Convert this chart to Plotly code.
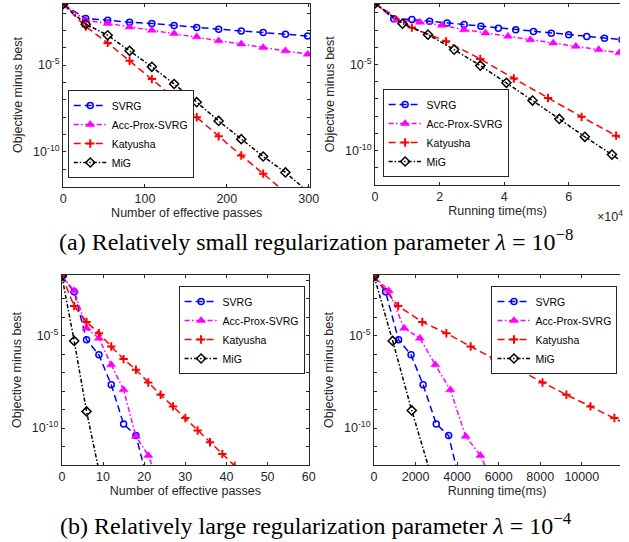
import numpy as np
import plotly.graph_objects as go

# ---------------- data (log10 of objective minus best) -------------
# (a) lambda = 1e-8, effective passes
a1_svrg_x = [0, 27.6, 54.4, 81.2, 108.4, 135.6, 163.2, 190.0, 217.6, 244.4, 271.6, 298.8]
a1_svrg_log = [-1.49, -2.32, -2.41, -2.53, -2.60, -2.72, -2.83, -2.93, -3.03, -3.12, -3.22, -3.32]
a1_acc_x = [0, 27.6, 54.4, 81.2, 108.4, 135.6, 163.2, 190.0, 217.6, 244.4, 271.6, 298.8]
a1_acc_log = [-1.49, -2.41, -2.60, -2.80, -2.99, -3.18, -3.37, -3.60, -3.78, -3.98, -4.18, -4.37]
a1_kat_x = [0, 27.6, 54.4, 81.2, 108.4, 135.6, 163.2, 190.0, 217.6, 244.4, 271.6]
a1_kat_log = [-1.49, -2.78, -3.72, -4.75, -5.80, -6.88, -8.01, -9.11, -10.21, -11.26, -12.35]
a1_mig_x = [0, 27.6, 54.4, 81.2, 108.4, 135.6, 163.2, 190.0, 217.6, 244.4, 271.6, 298.8]
a1_mig_log = [-1.49, -2.64, -3.28, -4.18, -5.10, -6.09, -7.14, -8.22, -9.27, -10.27, -11.19, -12.29]

# (a) lambda = 1e-8, running time (x 1e4 ms)
a2_svrg_x = [0, 0.58, 1.14, 1.69, 2.23, 2.76, 3.28, 3.82, 4.36, 4.91, 5.46, 6.00, 6.56, 7.11, 7.65]
a2_svrg_log = [-1.45, -2.33, -2.38, -2.48, -2.58, -2.67, -2.77, -2.89, -2.98, -3.08, -3.18, -3.27, -3.37, -3.47, -3.55]
a2_acc_x = [0, 0.68, 1.39, 2.07, 2.76, 3.42, 4.12, 4.81, 5.52, 6.22, 6.93, 7.57]
a2_acc_log = [-1.45, -2.42, -2.54, -2.72, -2.97, -3.16, -3.35, -3.55, -3.74, -3.94, -4.13, -4.32]
a2_kat_x = [0, 1.14, 2.20, 3.26, 4.30, 5.36, 6.40, 7.47, 8.53]
a2_kat_log = [-1.45, -2.85, -3.65, -4.67, -5.81, -6.94, -8.04, -9.13, -10.22]
a2_mig_x = [0, 0.85, 1.64, 2.45, 3.26, 4.07, 4.88, 5.71, 6.50, 7.34, 8.15]
a2_mig_log = [-1.45, -2.62, -3.26, -4.13, -5.06, -6.06, -7.09, -8.16, -9.20, -10.23, -11.25]

# (b) lambda = 1e-4, effective passes
b1_svrg_x = [0, 3, 6, 9, 12, 15, 18, 21]
b1_svrg_log = [-1.78, -2.63, -5.23, -6.04, -7.66, -9.78, -10.41, -13.0]
b1_acc_x = [0, 3, 6, 9, 12, 15, 18, 21, 24]
b1_acc_log = [-1.78, -2.57, -4.60, -5.14, -6.58, -7.93, -10.45, -11.48, -13.3]
b1_kat_x = [0, 3, 6, 9, 12, 15, 18, 21, 24, 27, 30, 33, 36, 39, 42]
b1_kat_log = [-1.78, -3.40, -4.26, -4.87, -5.59, -6.27, -6.85, -7.54, -8.20, -8.83, -9.46, -10.13, -10.77, -11.40, -12.05]
b1_mig_x = [0, 3, 6, 9]
b1_mig_log = [-1.78, -5.29, -9.10, -12.3]

# (b) lambda = 1e-4, running time (ms)
b2_svrg_x = [0, 553, 1181, 1780, 2361, 2994, 3590, 4150]
b2_svrg_log = [-1.78, -2.63, -5.23, -6.04, -7.66, -9.78, -10.41, -13.0]
b2_acc_x = [0, 708, 1450, 2205, 2947, 3670, 4410, 5120, 5850]
b2_acc_log = [-1.78, -2.57, -4.60, -5.14, -6.58, -7.93, -10.45, -11.48, -13.3]
b2_kat_x = [0, 1160, 2320, 3480, 4650, 5800, 6960, 8110, 9260, 10420, 11570, 12730]
b2_kat_log = [-1.78, -3.40, -4.26, -4.87, -5.59, -6.27, -6.85, -7.54, -8.20, -8.83, -9.46, -10.13]
b2_mig_x = [0, 897, 1813, 2700]
b2_mig_log = [-1.78, -5.29, -9.05, -12.4]

series_names = ["SVRG", "Acc-Prox-SVRG", "Katyusha", "MiG"]
y_major_exps = [-10, -5]
y_major_labels = ["10<sup>-10</sup>", "10<sup>-5</sup>"]
y_minor_exps = [-12, -11, -9, -8, -7, -6, -4, -3, -2]

# ---------------- styles ---------------------------------------------------------------
styles = {
    "SVRG": dict(line=dict(color="#0000FF", width=1.5, dash="7px,4px"),
                 marker=dict(symbol="circle-open", size=6, color="#0000FF",
                             line=dict(width=1.5, color="#0000FF"))),
    "Acc-Prox-SVRG": dict(line=dict(color="#FF00FF", width=1.5, dash="5px,2.5px,1.5px,2.5px"),
                          marker=dict(symbol="triangle-up", size=8, color="#FF00FF",
                                      line=dict(width=0.5, color="#FF00FF"))),
    "Katyusha": dict(line=dict(color="#FF0000", width=1.5, dash="7px,4px"),
                     marker=dict(symbol="cross-thin-open", size=6, color="#FF0000",
                                 line=dict(width=2, color="#FF0000"))),
    "MiG": dict(line=dict(color="#000000", width=1.5, dash="4px,2px,1.5px,2px"),
                marker=dict(symbol="diamond-open", size=7, color="#000000",
                            line=dict(width=1.5, color="#000000"))),
}

panels = [
    dict(xs=[a1_svrg_x, a1_acc_x, a1_kat_x, a1_mig_x],
         ys=[a1_svrg_log, a1_acc_log, a1_kat_log, a1_mig_log]),
    dict(xs=[a2_svrg_x, a2_acc_x, a2_kat_x, a2_mig_x],
         ys=[a2_svrg_log, a2_acc_log, a2_kat_log, a2_mig_log]),
    dict(xs=[b1_svrg_x, b1_acc_x, b1_kat_x, b1_mig_x],
         ys=[b1_svrg_log, b1_acc_log, b1_kat_log, b1_mig_log]),
    dict(xs=[b2_svrg_x, b2_acc_x, b2_kat_x, b2_mig_x],
         ys=[b2_svrg_log, b2_acc_log, b2_kat_log, b2_mig_log]),
]

W, H = 629, 542
fig = go.Figure()
legend_ids = ["legend", "legend2", "legend3", "legend4"]
for i, p in enumerate(panels):
    ax = "" if i == 0 else str(i + 1)
    for name, xv, yv in zip(series_names, p["xs"], p["ys"]):
        st = styles[name]
        fig.add_trace(go.Scatter(
            x=xv, y=10.0 ** np.array(yv), mode="lines+markers", name=name,
            line=st["line"], marker=st["marker"],
            xaxis="x" + ax, yaxis="y" + ax, legend=legend_ids[i],
        ))

FONT = "Liberation Sans, Arial, sans-serif"
AXC = "#262626"

def px_dom(a, b, total):
    return [a / total, b / total]

def ydom(top, bottom):
    return [1 - bottom / H, 1 - top / H]

axis_common = dict(showline=True, linecolor=AXC, linewidth=1, ticks="inside", ticklen=3,
                   tickcolor=AXC, tickwidth=1, showgrid=False, zeroline=False,
                   tickfont=dict(family=FONT, size=12.5, color=AXC))

layout = dict(width=W, height=H, margin=dict(l=0, r=0, t=0, b=0),
              plot_bgcolor="white", paper_bgcolor="white", showlegend=True)

xdefs = [
    dict(domain=px_dom(61.3, 313.3, W), range=[0, 302], tickvals=[0, 100, 200, 300],
         title="Number of effective passes", mirror="ticks"),
    dict(domain=px_dom(379.3, W, W), range=[0, 7.59], tickvals=[0, 2, 4, 6],
         title="Running time(ms)", mirror="ticks"),
    dict(domain=px_dom(60, 312, W), range=[0, 60.07], tickvals=[0, 10, 20, 30, 40, 50, 60],
         title="Number of effective passes", mirror="ticks"),
    dict(domain=px_dom(378.3, W, W), range=[0, 11840],
         tickvals=[0, 2000, 4000, 6000, 8000, 10000],
         title="Running time(ms)", mirror="ticks"),
]
ydefs = [
    dict(domain=ydom(3.5, 186.5), range=[-12, -1.45], mirror="ticks"),
    dict(domain=ydom(3.5, 185), range=[-12, -1.45], mirror=False),
    dict(domain=ydom(275, 465), range=[-12, -1.72], mirror="ticks"),
    dict(domain=ydom(275, 465), range=[-12, -1.72], mirror=False),
]

for i in range(4):
    ax = "" if i == 0 else str(i + 1)
    xd = xdefs[i]
    layout["xaxis" + ax] = dict(
        axis_common, domain=xd["domain"], range=xd["range"], tickvals=xd["tickvals"],
        ticktext=[str(v) for v in xd["tickvals"]], mirror=xd["mirror"],
        anchor="y" + ax,
        title=dict(text=xd["title"], font=dict(family=FONT, size=12.5, color=AXC), standoff=2),
    )
    yd = ydefs[i]
    layout["yaxis" + ax] = dict(
        axis_common, type="log", domain=yd["domain"], range=yd["range"],
        tickvals=[10.0 ** e for e in y_major_exps], ticktext=y_major_labels,
        minor=dict(tickmode="array", tickvals=[10.0 ** e for e in y_minor_exps],
                   ticks="inside", ticklen=3, tickcolor=AXC, tickwidth=1, showgrid=False),
        mirror=yd["mirror"], anchor="x" + ax,
        title=dict(text="Objective minus best", font=dict(family=FONT, size=12.5, color=AXC),
                   standoff=7),
    )

legend_common = dict(bgcolor="white", bordercolor=AXC, borderwidth=1, itemwidth=33,
                     font=dict(family=FONT, size=10.5, color="#000000"), xanchor="left",
                     tracegroupgap=0)
layout["legend"] = dict(legend_common, x=66 / W, y=1 - 178 / H, yanchor="bottom")
layout["legend2"] = dict(legend_common, x=387 / W, y=1 - 177 / H, yanchor="bottom")
layout["legend3"] = dict(legend_common, x=179 / W, y=1 - 286 / H, yanchor="top")
layout["legend4"] = dict(legend_common, x=498 / W, y=1 - 286 / H, yanchor="top")

fig.update_layout(**layout)

cap_font = dict(family="Liberation Serif, Times New Roman, serif", size=24, color="#000000")
fig.add_annotation(text="(a) Relatively small regularization parameter <i>λ</i> = 10<sup>−8</sup>",
                   xref="paper", yref="paper", x=319 / W, y=1 - 240 / H, showarrow=False,
                   xanchor="center", yanchor="middle", font=cap_font)
fig.add_annotation(text="(b) Relatively large regularization parameter <i>λ</i> = 10<sup>−4</sup>",
                   xref="paper", yref="paper", x=319 / W, y=1 - 524 / H, showarrow=False,
                   xanchor="center", yanchor="middle", font=cap_font)
fig.add_annotation(text="×10<sup>4</sup>", xref="paper", yref="paper", x=604 / W, y=1 - 216 / H,
                   showarrow=False, xanchor="left", yanchor="middle",
                   font=dict(family=FONT, size=12.5, color=AXC))

fig.write_html("out.html", config={"displayModeBar": False},
               post_script="document.body.style.margin='0';")
